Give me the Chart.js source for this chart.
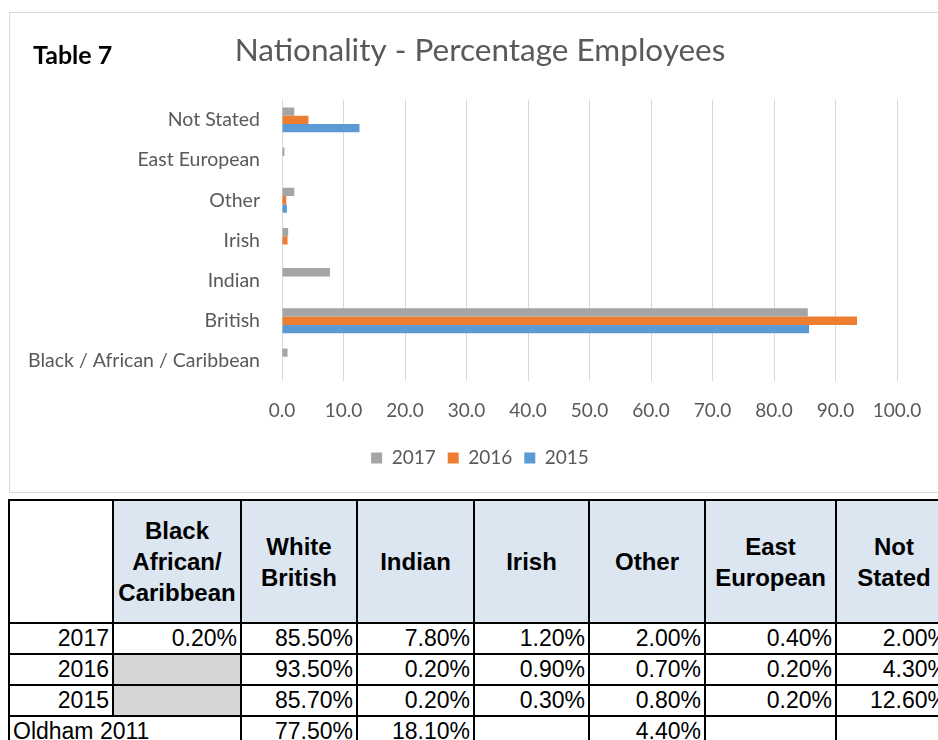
<!DOCTYPE html>
<html>
<head>
<meta charset="utf-8">
<script src="https://cdn.jsdelivr.net/npm/chart.js@4.4.1/dist/chart.umd.min.js"></script>
<style>
  body { margin: 0; width: 938px; height: 740px; overflow: hidden; position: relative; background: #fff; }
  #box { position: absolute; left: 9px; top: 12px; width: 960px; height: 479px; border: 1px solid #d9d9d9; }
  #chart { position: absolute; left: 0; top: 0; }
  #tag { position: absolute; left: 33px; top: 42px; font: bold 25px Lato, sans-serif; color: #000; line-height: 1; }
  table { position: absolute; left: 8px; top: 499px; width: 943px; border-collapse: collapse; table-layout: fixed;
          font-family: "Liberation Sans", Arial, sans-serif; }
  td { border: 2px solid #000; padding: 0 3px; height: 29px; font-size: 23px; text-align: right; line-height: 29px; white-space: nowrap; overflow: hidden; }
  tr.head td { background: #dce6f1; font-weight: bold; font-size: 24px; text-align: center; line-height: 31px; height: 121px; }
  tr.head td.blank { background: #fff; }
  td.grey { background: #d6d6d6; }
  td.left { text-align: left; }
</style>
</head>
<body>
<div id="box"><canvas id="chart" width="940" height="479"></canvas></div>
<div id="tag">Table 7</div>

<table id="tbl">
  <colgroup>
    <col style="width:104px"><col style="width:128px"><col style="width:116px"><col style="width:117px">
    <col style="width:115px"><col style="width:116px"><col style="width:131px"><col style="width:116px">
  </colgroup>
  <tbody id="tbody"></tbody>
</table>

<script>
// chart data
const categories = ['Not Stated', 'East European', 'Other', 'Irish', 'Indian', 'British', 'Black / African / Caribbean'];
const years = ['2017', '2016', '2015'];
const v2017 = [2.0, 0.4, 2.0, 1.0, 7.8, 85.5, 0.9];
const v2016 = [4.3, null, 0.7, 0.9, null, 93.5, null];
const v2015 = [12.6, null, 0.8, null, null, 85.7, null];
const colours = ['#a5a5a5', '#ed7d31', '#5b9bd5'];
const xTicks = [0, 10, 20, 30, 40, 50, 60, 70, 80, 90, 100];

// table below the chart
const tableHead = ['', 'Black<br>African/<br>Caribbean', 'White<br>British', 'Indian', 'Irish', 'Other', 'East<br>European', 'Not<br>Stated'];
const tableRows = ['2017', '2016', '2015'];
const t2017 = ['0.20%', '85.50%', '7.80%', '1.20%', '2.00%', '0.40%', '2.00%'];
const t2016 = [null, '93.50%', '0.20%', '0.90%', '0.70%', '0.20%', '4.30%'];
const t2015 = [null, '85.70%', '0.20%', '0.30%', '0.80%', '0.20%', '12.60%'];
const oldhamLabel = 'Oldham 2011';
const tOldham = ['77.50%', '18.10%', '', '4.40%', '', ''];

//---------------- table ----------------
function buildTable() {
    var tb = document.getElementById('tbody');
    var html = '<tr class="head">';
    for (var i = 0; i < tableHead.length; i++) {
        html += '<td' + (i == 0 ? ' class="blank"' : '') + '>' + tableHead[i] + '</td>';
    }
    html += '</tr>';
    var vals = [t2017, t2016, t2015];
    for (var r = 0; r < tableRows.length; r++) {
        html += '<tr><td>' + tableRows[r] + '</td>';
        for (var c = 0; c < vals[r].length; c++) {
            if (vals[r][c] === null) html += '<td class="grey"></td>';
            else html += '<td>' + vals[r][c] + '</td>';
        }
        html += '</tr>';
    }
    html += '<tr><td colspan="2" class="left">' + oldhamLabel + '</td>';
    for (var k = 0; k < tOldham.length; k++) html += '<td>' + tOldham[k] + '</td>';
    html += '</tr>';
    tb.innerHTML = html;
}
buildTable();

//---------------- chart ----------------
const series = [v2017, v2016, v2015];
const datasets = years.map(function (y, i) {
    return {
        label: y,
        data: series[i],
        backgroundColor: colours[i],
        borderWidth: 0,
        barPercentage: 1.0,
        categoryPercentage: 0.62
    };
});

const tickColor = '#595959';
const chartFont = 'Lato, sans-serif';

new Chart(document.getElementById('chart'), {
    type: 'bar',
    data: { labels: categories, datasets: datasets },
    options: {
        indexAxis: 'y',
        responsive: false,
        animation: false,
        layout: { padding: { left: 0, right: 0, top: 0, bottom: 14.5 } },
        plugins: {
            title: {
                display: true,
                text: 'Nationality - Percentage Employees',
                color: tickColor,
                font: { family: chartFont, size: 31.5, weight: 'normal' },
                padding: { top: 19, bottom: 30 }
            },
            legend: {
                position: 'bottom',
                labels: {
                    color: tickColor,
                    font: { family: chartFont, size: 19 },
                    boxWidth: 11,
                    boxHeight: 11,
                    padding: 12
                }
            },
            tooltip: { enabled: false }
        },
        scales: {
            x: {
                min: 0,
                max: 100,
                afterBuildTicks: function (scale) {
                    scale.ticks = xTicks.map(function (v) { return { value: v }; });
                },
                ticks: {
                    color: tickColor,
                    font: { family: chartFont, size: 19 },
                    padding: 18,
                    callback: function (v) { return Number(v).toFixed(1); }
                },
                grid: { color: '#d9d9d9', drawTicks: false },
                border: { display: false },
                afterFit: function (scale) { scale.height = 55.5; }
            },
            y: {
                ticks: {
                    color: tickColor,
                    font: { family: chartFont, size: 19.5 },
                    padding: 22
                },
                grid: { display: false, drawTicks: false },
                border: { display: false },
                afterFit: function (scale) { scale.width = 272; }
            },
            // empty right-hand spacer so the plot ends at 100 while title/legend stay centred
            spacer: {
                axis: 'y',
                type: 'linear',
                position: 'right',
                ticks: { display: false },
                grid: { display: false },
                border: { display: false },
                afterFit: function (scale) { scale.width = 53; }
            }
        }
    }
});
</script>
</body>
</html>
